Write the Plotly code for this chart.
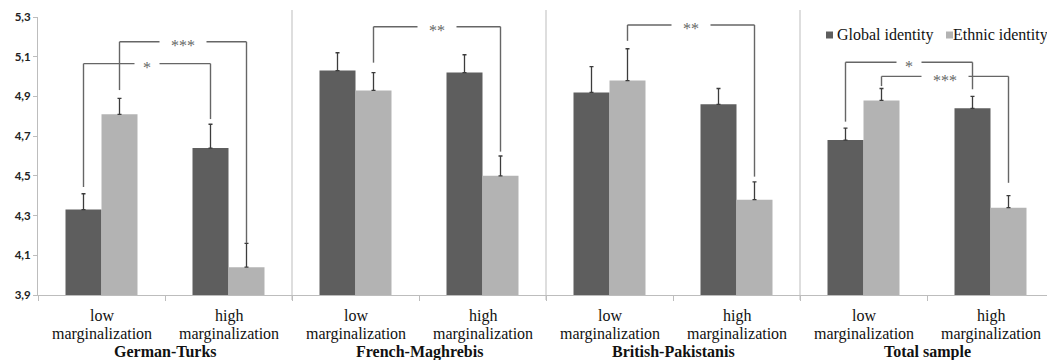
import plotly.graph_objects as go

# ---------------- data ----------------
groups = ["German-Turks", "French-Maghrebis", "British-Pakistanis", "Total sample"]
levels = ["low", "high"]
series_names = ["Global identity", "Ethnic identity"]

global_vals = [4.33, 4.64, 5.03, 5.02, 4.92, 4.86, 4.68, 4.84]
global_err = [0.08, 0.12, 0.09, 0.09, 0.13, 0.08, 0.06, 0.06]
ethnic_vals = [4.81, 4.04, 4.93, 4.50, 4.98, 4.38, 4.88, 4.34]
ethnic_err = [0.08, 0.12, 0.09, 0.10, 0.16, 0.09, 0.06, 0.06]

y_ticks = [3.9, 4.1, 4.3, 4.5, 4.7, 4.9, 5.1, 5.3]

# significance brackets: (from category, to category, series, y start, y top, y end, label)
brackets = [
    (0, 1, 0, 4.444, 5.065, 4.786, "*"),
    (0, 1, 1, 4.932, 5.175, 4.162, "***"),
    (2, 3, 1, 5.070, 5.251, 4.622, "**"),
    (4, 5, 1, 5.180, 5.260, 4.496, "**"),
    (6, 7, 0, 4.773, 5.072, 4.936, "*"),
    (6, 7, 1, 4.952, 5.001, 4.465, "***"),
]

# ---------------- style ----------------
DARK = "#5e5e5e"
LIGHT = "#b3b3b3"
AXIS = "#bdbdbd"
BRACKET = "#666666"
SERIF = "Liberation Serif"
BARGAP = 0.433

# page offset (browser body margin) compensation
OFF = 8
W, H = 1055 - OFF, 360 - OFF
L, T, R = 38 - OFF, 17 - OFF, 1
PW = W - L - R
PH = 278
B = H - T - PH

n_cat = len(groups) * len(levels)
xs = list(range(n_cat))
bar_w = (1 - BARGAP) / 2
offsets = [-bar_w / 2, bar_w / 2]

fig = go.Figure()
for name, vals, errs, col in [
    (series_names[0], global_vals, global_err, DARK),
    (series_names[1], ethnic_vals, ethnic_err, LIGHT),
]:
    fig.add_trace(go.Bar(
        x=xs, y=[v - y_ticks[0] for v in vals], base=y_ticks[0],
        name=name, marker=dict(color=col, line=dict(width=0)),
        error_y=dict(type="data", symmetric=False, array=errs,
                     arrayminus=[0] * len(errs), color="#3c3c3c",
                     thickness=1.3, width=2),
        showlegend=False,
    ))

shapes = []
annotations = []


def px_x(p):
    return (p - OFF - L) / PW


def px_y(p):
    return (OFF + T + PH - p) / PH


# panel dividers
for g in range(1, len(groups)):
    xb = g * len(levels) - 0.5
    shapes.append(dict(type="line", xref="x", yref="paper", x0=xb, x1=xb,
                       y0=px_y(300), y1=px_y(10), line=dict(color=AXIS, width=1)))

# brackets
px_per_unit = PW / n_cat
for c0, c1, s, ys, yt, ye, lab in brackets:
    xa = c0 + offsets[s]
    xb = c1 + offsets[s]
    xm = (xa + xb) / 2
    half_gap = {1: 12.5, 2: 19.5, 3: 23.5}[len(lab)] / px_per_unit
    ln = dict(color=BRACKET, width=1.4)
    shapes += [
        dict(type="line", xref="x", yref="y", x0=xa, x1=xa, y0=ys, y1=yt, line=ln),
        dict(type="line", xref="x", yref="y", x0=xa, x1=xm - half_gap, y0=yt, y1=yt, line=ln),
        dict(type="line", xref="x", yref="y", x0=xm + half_gap, x1=xb, y0=yt, y1=yt, line=ln),
        dict(type="line", xref="x", yref="y", x0=xb, x1=xb, y0=yt, y1=ye, line=ln),
    ]
    annotations.append(dict(x=xm, y=yt, xref="x", yref="y", text=lab, showarrow=False,
                            yanchor="middle", yshift=-4,
                            font=dict(family=SERIF, size=16, color=BRACKET)))

# category labels
for g, grp in enumerate(groups):
    for l, lev in enumerate(levels):
        xi = g * len(levels) + l
        annotations.append(dict(x=xi, y=px_y(315.5), xref="x", yref="paper", text=lev,
                                showarrow=False, yanchor="middle",
                                font=dict(family=SERIF, size=16, color="#111111")))
        annotations.append(dict(x=xi, y=px_y(333.5), xref="x", yref="paper",
                                text="marginalization",
                                showarrow=False, yanchor="middle",
                                font=dict(family=SERIF, size=16, color="#111111")))
    annotations.append(dict(x=g * len(levels) + 0.5, y=px_y(351.5), xref="x", yref="paper",
                            text="<b>%s</b>" % grp, showarrow=False, yanchor="middle",
                            font=dict(family=SERIF, size=16, color="#111111")))

# legend (manual)
for sq_x, txt_x, col, name in [(826, 835, DARK, series_names[0]),
                               (946, 951, LIGHT, series_names[1])]:
    shapes.append(dict(type="rect", xref="paper", yref="paper",
                       x0=px_x(sq_x), x1=px_x(sq_x + 7), y0=px_y(38.5), y1=px_y(31.5),
                       fillcolor=col, line=dict(width=0)))
    annotations.append(dict(x=px_x(txt_x), y=px_y(35), xref="paper", yref="paper",
                            text=name, showarrow=False, xanchor="left", yanchor="middle",
                            font=dict(family=SERIF, size=16, color="#111111")))

fig.update_layout(
    width=W, height=H,
    margin=dict(l=L, r=R, t=T, b=B, pad=0),
    paper_bgcolor="white", plot_bgcolor="white",
    barmode="group", bargap=BARGAP, bargroupgap=0,
    separators=",.",
    shapes=shapes, annotations=annotations,
    showlegend=False,
)
fig.update_xaxes(
    range=[-0.5, n_cat - 0.5], showgrid=False, zeroline=False,
    showline=True, linecolor=AXIS, linewidth=1,
    tickvals=xs, ticktext=[""] * n_cat, ticks="",
    minor=dict(tickvals=[i - 0.5 for i in range(n_cat + 1)], ticks="outside",
               ticklen=5, tickcolor=AXIS, showgrid=False),
)
fig.update_yaxes(
    range=[y_ticks[0], y_ticks[-1]], tickvals=y_ticks, tickformat=".1f",
    showgrid=False, zeroline=False, showline=True, linecolor=AXIS, linewidth=1,
    ticks="outside", ticklen=4, tickcolor=AXIS,
    tickfont=dict(family="Lato", size=11.5, weight="bold", color="#222222"),
)

fig.write_html("out.html")
